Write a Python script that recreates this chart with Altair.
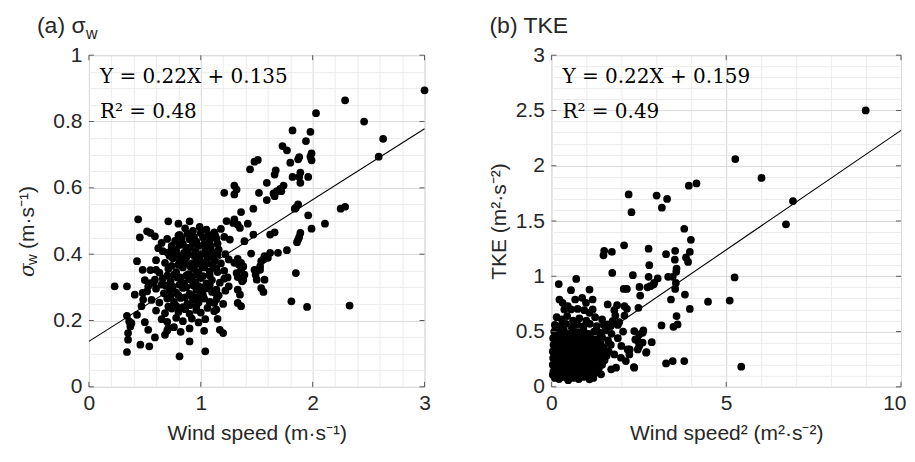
import altair as alt
import pandas as pd

# ---------------- Panel (a): sigma_w vs wind speed ----------------
# upper band / right side
wind_a_1 = [3.00, 2.29, 2.03, 2.46, 2.63, 2.59, 1.82, 1.98, 1.94, 1.73,
            1.77, 1.99, 1.98, 1.99, 1.88, 1.87, 1.80, 1.51, 1.48, 1.44,
            1.67, 1.66, 1.82, 1.89, 1.88, 1.96, 1.89, 1.59, 1.74, 1.71,
            1.68, 1.65, 1.66, 1.72, 1.30, 1.32, 1.30, 1.21, 1.52, 1.59,
            1.87, 1.85, 1.84, 1.96, 2.25, 2.29, 1.47, 1.36, 2.11, 1.99]
sigma_a_1 = [0.894, 0.864, 0.825, 0.800, 0.748, 0.694, 0.773, 0.769, 0.741, 0.726,
             0.713, 0.704, 0.694, 0.683, 0.693, 0.686, 0.676, 0.684, 0.679, 0.656,
             0.653, 0.640, 0.633, 0.646, 0.633, 0.633, 0.615, 0.615, 0.607, 0.597,
             0.590, 0.583, 0.575, 0.590, 0.607, 0.595, 0.580, 0.585, 0.585, 0.563,
             0.550, 0.540, 0.537, 0.517, 0.537, 0.543, 0.537, 0.527, 0.492, 0.477]
# middle / right of the core
wind_a_2 = [1.89, 1.88, 1.87, 1.86, 1.66, 1.62, 1.47, 1.39, 1.30, 1.33,
            1.35, 1.42, 1.23, 1.29, 1.77, 1.69, 1.62, 1.60, 1.57, 1.56,
            1.54, 1.53, 1.53, 1.45, 1.85, 1.36, 1.33, 1.34, 1.30, 1.38,
            1.36, 1.32, 1.33, 1.38, 1.39, 1.48, 1.49, 1.50, 1.57, 1.54,
            1.56, 1.37, 1.33, 1.33, 1.36, 1.35, 1.25, 1.21, 1.15, 1.14,
            1.13, 1.12, 1.14, 1.15, 1.17, 1.20, 1.03, 1.04, 0.90, 0.81,
            1.81, 1.95, 2.33]
sigma_a_2 = [0.464, 0.452, 0.444, 0.436, 0.466, 0.459, 0.459, 0.439, 0.505, 0.489,
             0.479, 0.492, 0.500, 0.494, 0.412, 0.404, 0.404, 0.389, 0.394, 0.384,
             0.379, 0.363, 0.353, 0.402, 0.343, 0.374, 0.386, 0.369, 0.374, 0.363,
             0.353, 0.343, 0.331, 0.323, 0.338, 0.353, 0.338, 0.323, 0.323, 0.298,
             0.286, 0.318, 0.293, 0.253, 0.243, 0.278, 0.303, 0.326, 0.346, 0.293,
             0.283, 0.253, 0.233, 0.205, 0.172, 0.162, 0.169, 0.107, 0.137, 0.092,
             0.258, 0.241, 0.245]
# low-wind tail
wind_a_3 = [0.23, 0.34, 0.34, 0.46, 0.54, 0.35, 0.35, 0.37, 0.36, 0.38,
            0.34, 0.43, 0.41, 0.43, 0.44, 0.455, 0.48, 0.48, 0.485, 0.47,
            0.50, 0.53, 0.59, 0.52, 0.55, 0.59, 0.65, 0.66, 0.55, 0.53,
            0.68, 0.71, 0.71, 0.80, 0.90, 0.81, 0.83, 0.60, 0.74, 0.75,
            0.59, 0.65]
sigma_a_3 = [0.303, 0.303, 0.105, 0.127, 0.122, 0.142, 0.162, 0.182, 0.197, 0.192,
             0.214, 0.217, 0.278, 0.379, 0.505, 0.451, 0.353, 0.283, 0.263, 0.243,
             0.195, 0.172, 0.149, 0.469, 0.464, 0.454, 0.434, 0.409, 0.313, 0.303,
             0.157, 0.177, 0.499, 0.492, 0.499, 0.458, 0.449, 0.353, 0.422, 0.404,
             0.323, 0.308]
# dense core
wind_a_4 = [0.86, 0.93, 0.99, 1.05, 1.12, 1.18,
            0.70, 0.77, 0.84, 0.90, 0.96, 1.02, 1.08, 1.14, 1.21, 1.26,
            0.62, 0.70, 0.78, 0.85, 0.90, 0.95, 1.00, 1.04, 1.10, 1.16, 1.22,
            0.60, 0.68, 0.75, 0.81, 0.87, 0.92, 0.96, 1.01, 1.06, 1.12, 1.18, 1.25,
            0.55, 0.63, 0.71, 0.78, 0.84, 0.89, 0.94, 0.98, 1.03, 1.08, 1.14, 1.21,
            0.50, 0.58, 0.66, 0.73, 0.79, 0.85, 0.90, 0.95, 1.00, 1.05, 1.10, 1.17, 1.24,
            0.52, 0.60, 0.67, 0.72, 0.78, 0.84, 0.90, 0.96, 1.00, 1.04, 1.10, 1.16, 1.22,
            0.56, 0.63, 0.70, 0.76, 0.82, 0.88, 0.93, 0.98, 1.03, 1.08, 1.14, 1.20,
            0.60, 0.68, 0.74, 0.80, 0.86, 0.90, 0.96, 1.00, 1.06, 1.12,
            0.65, 0.70, 0.78, 0.84, 0.92, 0.98, 1.04,
            0.70, 0.76, 0.82, 0.90]
sigma_a_4 = [0.478, 0.470, 0.482, 0.474, 0.466, 0.476,
             0.446, 0.440, 0.432, 0.445, 0.438, 0.450, 0.440, 0.447, 0.452, 0.444,
             0.418, 0.405, 0.412, 0.404, 0.420, 0.410, 0.400, 0.418, 0.408, 0.414, 0.400,
             0.382, 0.374, 0.388, 0.378, 0.390, 0.372, 0.385, 0.376, 0.389, 0.380, 0.372, 0.384,
             0.352, 0.344, 0.356, 0.346, 0.360, 0.340, 0.355, 0.345, 0.360, 0.348, 0.356, 0.350,
             0.322, 0.314, 0.326, 0.318, 0.330, 0.312, 0.324, 0.316, 0.328, 0.312, 0.322, 0.314, 0.330,
             0.288, 0.296, 0.282, 0.292, 0.284, 0.298, 0.280, 0.292, 0.284, 0.296, 0.286, 0.276, 0.290,
             0.262, 0.254, 0.266, 0.256, 0.268, 0.250, 0.262, 0.254, 0.266, 0.256, 0.264, 0.250,
             0.230, 0.222, 0.236, 0.226, 0.234, 0.220, 0.232, 0.224, 0.238, 0.228,
             0.204, 0.196, 0.208, 0.198, 0.206, 0.194, 0.204,
             0.170, 0.180, 0.166, 0.176]
# densest part of the core (overlapping dots)
wind_a_5 = [0.80, 0.88, 0.94, 1.00, 1.07, 1.13,
            0.74, 0.81, 0.87, 0.93, 0.98, 1.03, 1.09, 1.15,
            0.72, 0.79, 0.84, 0.89, 0.94, 0.99, 1.04, 1.09, 1.15,
            0.74, 0.80, 0.86, 0.91, 0.96, 1.01, 1.06, 1.11,
            0.70, 0.76, 0.82, 0.87, 0.92, 0.97, 1.02, 1.08,
            0.69, 0.75, 0.81, 0.87, 0.93, 0.98, 1.03, 1.08,
            0.73, 0.80, 0.86, 0.92, 0.97, 1.02,
            0.71, 0.78, 0.84, 0.90, 0.96]
sigma_a_5 = [0.456, 0.462, 0.452, 0.464, 0.458, 0.455,
             0.425, 0.428, 0.418, 0.432, 0.425, 0.430, 0.424, 0.432,
             0.395, 0.398, 0.392, 0.400, 0.396, 0.392, 0.402, 0.395, 0.398,
             0.365, 0.368, 0.372, 0.362, 0.370, 0.364, 0.372, 0.366,
             0.335, 0.338, 0.330, 0.335, 0.332, 0.338, 0.334, 0.336,
             0.305, 0.302, 0.308, 0.300, 0.306, 0.304, 0.300, 0.306,
             0.272, 0.276, 0.270, 0.274, 0.270, 0.276,
             0.242, 0.244, 0.240, 0.246, 0.242]

fit_a_x = [0, 3]
fit_a_y = [0.137, 0.778]

# ---------------- Panel (b): TKE vs wind speed^2 ----------------
wind2_b_1 = [8.99, 5.26, 6.01, 6.91, 6.71, 3.93, 4.15, 2.21, 3.01, 3.31,
             3.16, 2.29, 3.80, 3.99, 2.08, 1.51, 1.49, 1.73, 2.78, 3.28,
             3.54, 3.53, 3.96, 3.85, 3.91, 2.80, 3.58, 3.57, 1.74, 2.33,
             2.78, 3.04, 2.94, 3.34, 3.47, 3.56, 3.54, 5.24, 2.52, 2.75,
             2.83, 2.92, 2.54, 3.42, 3.82, 4.48, 5.10, 2.49, 3.96, 3.58,
             3.61, 3.49, 3.15, 2.37, 2.40, 2.63, 2.61, 2.87, 2.71, 2.47,
             2.48, 2.24, 3.28, 3.47, 3.80, 5.43, 2.36, 2.07, 2.16, 1.61,
             1.88, 1.80, 2.09, 2.16, 2.09, 1.83, 2.51, 2.61, 2.51, 2.72]
tke_b_1 = [2.50, 2.06, 1.89, 1.68, 1.47, 1.82, 1.84, 1.74, 1.73, 1.70,
           1.62, 1.58, 1.43, 1.33, 1.28, 1.23, 1.19, 1.22, 1.25, 1.20,
           1.23, 1.15, 1.22, 1.17, 1.13, 1.10, 1.07, 1.04, 1.03, 1.01,
           0.995, 0.98, 0.94, 0.995, 0.995, 0.94, 0.886, 0.99, 0.904, 0.90,
           0.91, 0.925, 0.826, 0.79, 0.835, 0.77, 0.78, 0.715, 0.705, 0.64,
           0.564, 0.543, 0.555, 0.504, 0.429, 0.51, 0.489, 0.404, 0.309, 0.338,
           0.413, 0.338, 0.212, 0.233, 0.233, 0.182, 0.179, 0.886, 0.886, 0.745,
           0.738, 0.693, 0.73, 0.706, 0.645, 0.645, 0.474, 0.40, 0.368, 0.314]
wind2_b_2 = [0.21, 0.71, 0.56, 1.09, 0.23, 0.32, 0.68, 0.88, 1.18, 0.99,
             0.47, 0.56, 0.75, 0.94, 0.37, 1.09, 1.18, 1.61, 1.75, 1.94,
             2.18, 2.23, 1.99, 2.13, 2.37, 1.80, 1.85, 1.71, 1.42, 1.09,
             0.94]
tke_b_2 = [0.93, 0.976, 0.874, 0.88, 0.79, 0.76, 0.79, 0.805, 0.79, 0.76,
           0.73, 0.70, 0.705, 0.693, 0.70, 0.67, 0.70, 0.564, 0.594, 0.585,
           0.338, 0.293, 0.263, 0.233, 0.173, 0.293, 0.173, 0.158, 0.113, 0.068,
           0.128]
wind2_b_3 = [0.15, 0.30, 0.45, 0.62, 0.80, 1.00, 1.25, 1.45,
             0.10, 0.25, 0.42, 0.58, 0.75, 0.92, 1.10, 1.30, 1.50, 1.70, 1.90,
             0.08, 0.22, 0.36, 0.50, 0.64, 0.78, 0.92, 1.06, 1.22, 1.38, 1.55, 1.72, 2.05,
             0.05, 0.18, 0.30, 0.44, 0.56, 0.70, 0.84, 0.98, 1.12, 1.28, 1.45, 1.62, 1.90,
             0.06, 0.16, 0.28, 0.40, 0.52, 0.64, 0.76, 0.90, 1.04, 1.18, 1.34, 1.50, 1.70, 2.00,
             0.04, 0.14, 0.25, 0.36, 0.48, 0.60, 0.72, 0.85, 0.98, 1.12, 1.28, 1.46, 1.64,
             0.05, 0.15, 0.26, 0.38, 0.50, 0.62, 0.75, 0.88, 1.02, 1.16, 1.32, 1.52,
             0.04, 0.14, 0.24, 0.35, 0.46, 0.58, 0.70, 0.82, 0.96, 1.10, 1.26, 1.45,
             0.06, 0.16, 0.28, 0.40, 0.52, 0.66, 0.80, 0.94, 1.10, 1.28,
             0.10, 0.22, 0.34, 0.48, 0.62, 0.78, 0.92, 1.20]
tke_b_3 = [0.63, 0.61, 0.64, 0.60, 0.62, 0.60, 0.63, 0.61,
           0.56, 0.55, 0.57, 0.54, 0.56, 0.55, 0.57, 0.55, 0.56, 0.55, 0.56,
           0.50, 0.49, 0.51, 0.48, 0.50, 0.49, 0.51, 0.48, 0.50, 0.49, 0.51, 0.48, 0.50,
           0.44, 0.43, 0.45, 0.42, 0.44, 0.43, 0.45, 0.42, 0.44, 0.43, 0.45, 0.42, 0.44,
           0.38, 0.37, 0.39, 0.36, 0.38, 0.37, 0.39, 0.36, 0.38, 0.37, 0.39, 0.36, 0.38, 0.37,
           0.32, 0.31, 0.33, 0.30, 0.32, 0.31, 0.33, 0.30, 0.32, 0.31, 0.33, 0.30, 0.32,
           0.26, 0.25, 0.27, 0.24, 0.26, 0.25, 0.27, 0.24, 0.26, 0.25, 0.27, 0.24,
           0.20, 0.19, 0.21, 0.18, 0.20, 0.19, 0.21, 0.18, 0.20, 0.19, 0.21, 0.20,
           0.14, 0.13, 0.15, 0.12, 0.14, 0.13, 0.15, 0.12, 0.14, 0.13,
           0.08, 0.07, 0.09, 0.06, 0.08, 0.07, 0.09, 0.08]
# densest part near the origin (overlapping dots)
wind2_b_4 = [0.12, 0.28, 0.44, 0.60, 0.76, 0.92, 1.10,
             0.12, 0.24, 0.36, 0.50, 0.62, 0.76, 0.90, 1.05, 1.20, 1.40,
             0.10, 0.22, 0.34, 0.46, 0.58, 0.70, 0.83, 0.97, 1.11, 1.26, 1.42,
             0.09, 0.20, 0.31, 0.42, 0.54, 0.66, 0.79, 0.92, 1.05, 1.20, 1.38, 1.58,
             0.10, 0.20, 0.31, 0.44, 0.56, 0.68, 0.81, 0.95, 1.09, 1.24, 1.40,
             0.09, 0.20, 0.30, 0.41, 0.52, 0.64, 0.76, 0.88, 1.02, 1.18, 1.36,
             0.04, 0.16, 0.28, 0.40, 0.55, 0.70, 0.86, 1.02]
tke_b_4 = [0.47, 0.46, 0.47, 0.46, 0.47, 0.46, 0.47,
           0.41, 0.40, 0.41, 0.40, 0.41, 0.40, 0.41, 0.40, 0.41, 0.40,
           0.35, 0.34, 0.35, 0.34, 0.35, 0.34, 0.35, 0.34, 0.35, 0.34, 0.35,
           0.29, 0.28, 0.29, 0.28, 0.29, 0.28, 0.29, 0.28, 0.29, 0.28, 0.29, 0.28,
           0.23, 0.22, 0.23, 0.22, 0.23, 0.22, 0.23, 0.22, 0.23, 0.22, 0.23,
           0.17, 0.16, 0.17, 0.16, 0.17, 0.16, 0.17, 0.16, 0.17, 0.16, 0.17,
           0.11, 0.10, 0.11, 0.10, 0.11, 0.10, 0.11, 0.10]

fit_b_x = [0, 10]
fit_b_y = [0.159, 2.32]

# tick labels
xticks_a = [0, 1, 2, 3]
yticks_a = [0, 0.2, 0.4, 0.6, 0.8, 1]
xticks_b = [0, 5, 10]
yticks_b = [0, 0.5, 1, 1.5, 2, 2.5, 3]

eq_a = ["Y = 0.22X + 0.135", "R² = 0.48"]
eq_b = ["Y = 0.22X + 0.159", "R² = 0.49"]

# ---------------- styling ----------------
SANS = "Liberation Sans Narrow, Arial Narrow, Liberation Sans, Arial, sans-serif"
TITLE_FONT = "Liberation Sans, Arial, sans-serif"
SERIF = "DejaVu Serif, serif"
TXT = "#262626"
TICK = "#5a5a5a"
W_A, W_B, H = 336, 350, 332

minor_xa = [round(i * 0.2, 2) for i in range(16)]
minor_ya = [round(i * 0.05, 2) for i in range(21)]
minor_xb = list(range(11))
minor_yb = [round(i * 0.1, 1) for i in range(31)]


def axis(values, majors, title=None, **kw):
    is_major = f"indexof({majors}, datum.value) >= 0"
    return alt.Axis(
        values=values,
        tickCount=200,
        labelExpr=f"{is_major} ? format(datum.value, '~g') : ''",
        grid=True,
        gridColor={"condition": {"test": is_major, "value": "#dadada"}, "value": "#ececec"},
        gridWidth=1,
        ticks=False,
        domain=False,
        labelFont=SANS,
        labelFontSize=21,
        labelColor=TXT,
        labelOverlap=False,
        labelFlush=False,
        title=title,
        titleFont=SANS,
        titleFontSize=21,
        titleFontWeight="normal",
        titleColor=TXT,
        **kw,
    )


def panel(wx, wy, fx, fy, xdom, ydom, xvals, xmaj, yvals, ymaj, xtitle, ytitle, width, eq, xkw=None):
    df = pd.DataFrame({"x": wx, "y": wy})
    xs = alt.Scale(domain=xdom, nice=False, zero=False)
    ys = alt.Scale(domain=ydom, nice=False, zero=False)
    yax_kw = dict(labelPadding=7)
    if ytitle:
        yax_kw.update(titlePadding=6)
    xax_kw = dict(labelPadding=6, titlePadding=9)
    if xkw:
        xax_kw.update(xkw)
    pts = alt.Chart(df).mark_circle(size=60, color="black", opacity=1).encode(
        x=alt.X("x:Q", scale=xs, axis=axis(xvals, xmaj, xtitle, **xax_kw)),
        y=alt.Y("y:Q", scale=ys, axis=axis(yvals, ymaj, ytitle, **yax_kw)),
    )
    fit = alt.Chart(pd.DataFrame({"x": fx, "y": fy})).mark_line(color="black", strokeWidth=1.1).encode(
        x=alt.X("x:Q", scale=xs), y=alt.Y("y:Q", scale=ys)
    )
    xt = pd.DataFrame({"x": xmaj})
    yt = pd.DataFrame({"y": ymaj})
    tb = alt.Chart(xt).mark_rule(color=TICK, strokeWidth=1).encode(
        x=alt.X("x:Q", scale=xs), y=alt.value(H), y2=alt.value(H - 5))
    tt = alt.Chart(xt).mark_rule(color=TICK, strokeWidth=1).encode(
        x=alt.X("x:Q", scale=xs), y=alt.value(0), y2=alt.value(5))
    tl = alt.Chart(yt).mark_rule(color=TICK, strokeWidth=1).encode(
        y=alt.Y("y:Q", scale=ys), x=alt.value(0), x2=alt.value(5))
    tr = alt.Chart(yt).mark_rule(color=TICK, strokeWidth=1).encode(
        y=alt.Y("y:Q", scale=ys), x=alt.value(width), x2=alt.value(width - 5))
    t1 = alt.Chart(pd.DataFrame({"t": [eq[0]]})).mark_text(
        align="left", baseline="middle", font=SERIF, fontSize=20, color="black"
    ).encode(x=alt.value(11), y=alt.value(22), text="t:N")
    t2 = alt.Chart(pd.DataFrame({"t": [eq[1]]})).mark_text(
        align="left", baseline="middle", font=SERIF, fontSize=20, color="black"
    ).encode(x=alt.value(11), y=alt.value(57), text="t:N")
    return alt.layer(pts, fit, tb, tt, tl, tr, t1, t2).properties(width=width, height=H)


def txt(s, x, y, font, size, **kw):
    return alt.Chart(pd.DataFrame({"t": [s]})).mark_text(
        font=font, fontSize=size, color=TXT, **kw
    ).encode(x=alt.value(x), y=alt.value(y), text="t:N")


left = panel(wind_a_1 + wind_a_2 + wind_a_3 + wind_a_4 + wind_a_5,
             sigma_a_1 + sigma_a_2 + sigma_a_3 + sigma_a_4 + sigma_a_5,
             fit_a_x, fit_a_y, [0, 3], [0, 1],
             minor_xa, xticks_a, minor_ya, yticks_a,
             "Wind speed (m·s⁻¹)", None, W_A, eq_a)

left_title = txt("(a) σ", -52, -22, TITLE_FONT, 23, align="left", baseline="alphabetic")
left_title_sub = txt("w", -3, -16, TITLE_FONT, 16, align="left", baseline="alphabetic")
ylab_sigma = txt("σ", -61, 222, SERIF, 20, align="left", baseline="middle", angle=270, fontStyle="italic")
ylab_w = txt("w", -57, 210, SANS, 15, align="left", baseline="middle", angle=270)
ylab_unit = txt("(m·s⁻¹)", -61, 194, SANS, 21, align="left", baseline="middle", angle=270)

left = alt.layer(left, left_title, left_title_sub, ylab_sigma, ylab_w, ylab_unit)

right = panel(wind2_b_1 + wind2_b_2 + wind2_b_3 + wind2_b_4,
              tke_b_1 + tke_b_2 + tke_b_3 + tke_b_4,
              fit_b_x, fit_b_y, [0, 10], [0, 3],
              minor_xb, xticks_b, minor_yb, yticks_b,
              "Wind speed² (m²·s⁻²)", "TKE (m²·s⁻²)", W_B, eq_b,
              xkw=dict(labelAlign={"condition": {"test": "datum.value == 10", "value": "right"},
                                   "value": "center"},
                       labelOffset={"condition": {"test": "datum.value == 10", "value": 5},
                                    "value": 0}))
right_title = txt("(b) TKE", -62, -22, TITLE_FONT, 23, align="left", baseline="alphabetic")
right = alt.layer(right, right_title)

chart = alt.hconcat(left, right, spacing=127, bounds="flush").properties(
    padding={"left": 8, "top": 6, "right": 0, "bottom": 5},
).configure_view(stroke="#8a8a8a", strokeWidth=1).configure(background="white")

chart.save("out.html", embed_options={"renderer": "svg", "actions": False})
